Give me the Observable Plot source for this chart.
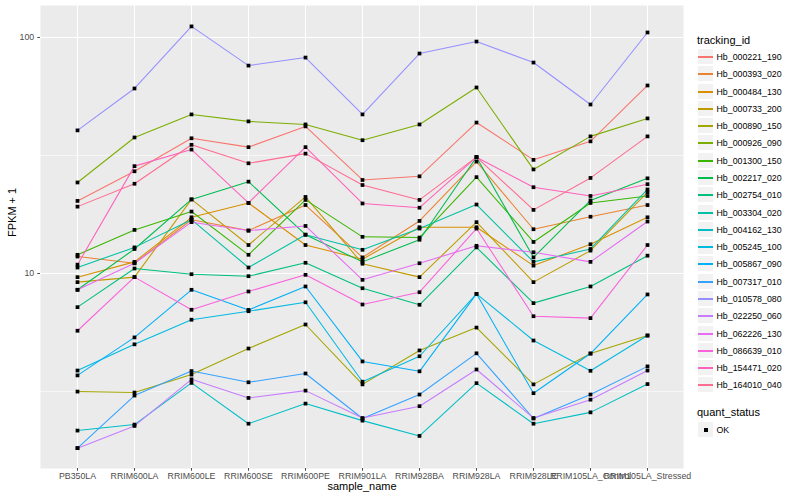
<!DOCTYPE html>
<html><head><meta charset="utf-8">
<script src="https://cdn.jsdelivr.net/npm/d3@7"></script>
<script src="https://cdn.jsdelivr.net/npm/@observablehq/plot@0.6"></script>
<style>
body{margin:0;background:#fff;font-family:"Liberation Sans",Arial,Helvetica,sans-serif;}
#wrap{position:relative;width:800px;height:500px;overflow:hidden;background:#fff;}
#chart{position:absolute;left:0;top:0;}
.lg{position:absolute;white-space:nowrap;color:#000;}
.ttl{font-size:11px;line-height:12px;}
.key{position:absolute;width:17px;height:17px;box-sizing:border-box;background:#f2f2f2;border:0.6px solid #fff;}
.lab{font-size:8.8px;line-height:10px;}
</style></head><body>
<div id="wrap"><div id="chart"></div><div id="legend"></div></div>
<script>
const samples = ["PB350LA","RRIM600LA","RRIM600LE","RRIM600SE","RRIM600PE","RRIM901LA","RRIM928BA","RRIM928LA","RRIM928LE","RRIM105LA_Control","RRIM105LA_Stressed"];
const trackingIds = ["Hb_000221_190","Hb_000393_020","Hb_000484_130","Hb_000733_200","Hb_000890_150","Hb_000926_090","Hb_001300_150","Hb_002217_020","Hb_002754_010","Hb_003304_020","Hb_004162_130","Hb_005245_100","Hb_005867_090","Hb_007317_010","Hb_010578_080","Hb_022250_060","Hb_062226_130","Hb_086639_010","Hb_154471_020","Hb_164010_040"];
const yTicks = [10, 100];
const quantStatus = ["OK"];

const hb_000221_190 = [20.3, 27.1, 37.4, 34.3, 42.0, 24.9, 25.8, 43.6, 30.3, 36.3, 62.6];
const hb_000393_020 = [11.8, 11.05, 16.9, 15.2, 19.5, 11.7, 16.7, 29.8, 15.4, 17.4, 19.5];
const hb_000484_130 = [9.65, 11.2, 17.3, 19.9, 13.2, 11.5, 15.7, 15.7, 10.8, 13.3, 17.3];
const hb_000733_200 = [9.19, 9.65, 20.6, 13.2, 21.1, 11.0, 9.65, 16.5, 9.19, 12.5, 22.1];
const hb_000890_150 = [3.16, 3.13, 3.73, 4.81, 6.08, 3.39, 4.72, 5.90, 3.39, 4.58, 5.46];
const hb_000926_090 = [24.3, 37.7, 47.2, 44.1, 42.8, 36.7, 42.8, 61.4, 27.6, 38.1, 45.4];
const hb_001300_150 = [12.0, 15.3, 18.3, 12.0, 20.5, 14.3, 14.2, 25.6, 13.6, 19.9, 21.3];
const hb_002217_020 = [8.53, 12.7, 20.6, 24.5, 14.6, 11.2, 13.9, 31.1, 11.7, 20.4, 25.3];
const hb_002754_010 = [7.20, 10.5, 9.93, 9.74, 11.1, 8.66, 7.37, 12.9, 7.49, 8.81, 11.9];
const hb_003304_020 = [10.6, 12.9, 16.9, 10.6, 14.6, 12.6, 15.5, 19.6, 11.2, 12.7, 22.7];
const hb_004162_130 = [2.16, 2.29, 3.44, 2.31, 2.81, 2.38, 2.05, 3.43, 2.31, 2.58, 3.40];
const hb_005245_100 = [3.88, 5.01, 6.37, 6.92, 7.55, 3.48, 4.46, 8.20, 5.20, 3.87, 5.46];
const hb_005867_090 = [3.70, 5.36, 8.53, 7.01, 8.81, 4.24, 3.85, 8.20, 3.11, 4.58, 8.15];
const hb_007317_010 = [1.82, 3.04, 3.86, 3.46, 3.77, 2.43, 3.07, 4.59, 2.43, 3.07, 4.04];
const hb_010578_080 = [40.4, 60.8, 111.4, 76.0, 82.2, 47.2, 85.5, 96.1, 78.3, 52.0, 105.0];
const hb_022250_060 = [1.82, 2.26, 3.56, 2.97, 3.19, 2.44, 2.74, 3.92, 2.44, 2.92, 3.88];
const hb_062226_130 = [8.53, 11.05, 16.5, 15.2, 15.9, 9.40, 11.05, 13.1, 12.3, 11.2, 16.6];
const hb_086639_010 = [5.72, 9.65, 7.02, 8.39, 9.87, 7.39, 8.33, 15.5, 6.59, 6.47, 13.2];
const hb_154471_020 = [10.9, 28.5, 33.5, 19.9, 34.3, 19.8, 19.0, 31.1, 23.2, 21.3, 23.9];
const hb_164010_040 = [19.2, 24.0, 35.1, 29.3, 32.2, 23.7, 20.5, 31.1, 18.6, 25.4, 38.1];

const seriesValues = [hb_000221_190, hb_000393_020, hb_000484_130, hb_000733_200, hb_000890_150, hb_000926_090, hb_001300_150, hb_002217_020, hb_002754_010, hb_003304_020, hb_004162_130, hb_005245_100, hb_005867_090, hb_007317_010, hb_010578_080, hb_022250_060, hb_062226_130, hb_086639_010, hb_154471_020, hb_164010_040];

const palette = ["#F8766D","#EA8331","#D89000","#C09B00","#A3A500","#7CAE00","#39B600","#00BB4E","#00BF7D","#00C1A3","#00BFC4","#00BAE0","#00B0F6","#35A2FF","#9590FF","#C77CFF","#E76BF3","#FA62DB","#FF62BC","#FF6C91"];

const rows = [];
trackingIds.forEach((id, i) => {
  samples.forEach((s, j) => rows.push({id, sample: s, value: seriesValues[i][j], status: "OK"}));
});

const font = '"Liberation Sans",Arial,Helvetica,sans-serif';
const chart = Plot.plot({
  width: 690, height: 500,
  marginLeft: 40, marginRight: 7, marginTop: 5, marginBottom: 32,
  style: {fontFamily: font, fontSize: "8.8px", background: "white", overflow: "visible"},
  x: {type: "point", domain: samples, padding: 0.6, axis: null},
  y: {type: "log", domain: [1.492, 136.6], axis: null},
  color: {domain: trackingIds, range: palette},
  marks: [
    Plot.frame({fill: "#ebebeb", stroke: "none"}),
    Plot.gridY([Math.sqrt(10), Math.sqrt(1000)], {stroke: "white", strokeOpacity: 1, strokeWidth: 0.55}),
    Plot.gridY(yTicks, {stroke: "white", strokeOpacity: 1, strokeWidth: 1.1}),
    Plot.gridX(samples, {stroke: "white", strokeOpacity: 1, strokeWidth: 1.1}),
    Plot.line(rows, {x: "sample", y: "value", z: "id", stroke: "id", strokeWidth: 1.07}),
    Plot.dot(rows, {x: "sample", y: "value", symbol: "square", r: 2.1, fill: "black", stroke: "none"}),
    Plot.axisX(samples, {tickSize: 2.75, tickPadding: 1.5, color: "#4d4d4d", fontSize: 8.8, label: null}),
    Plot.axisY(yTicks, {tickSize: 2.75, tickPadding: 3.5, color: "#4d4d4d", fontSize: 8.8, tickFormat: d => String(d), label: null}),
    Plot.text(["sample_name"], {frameAnchor: "bottom", dy: 21, fontSize: 11, fill: "black"}),
    Plot.text(["FPKM + 1"], {frameAnchor: "left", dx: -28, rotate: -90, fontSize: 11, fill: "black"})
  ]
});
document.getElementById("chart").appendChild(chart);

// legend
const lg = document.getElementById("legend");
function add(html, cls, left, top) {
  const d = document.createElement("div");
  d.className = "lg " + cls;
  d.style.left = left + "px";
  d.style.top = top + "px";
  d.innerHTML = html;
  lg.appendChild(d);
  return d;
}
add("tracking_id", "ttl", 697, 34);
trackingIds.forEach((id, i) => {
  const top = Math.round(48.06 + i * 17.28);
  const k = document.createElement("div");
  k.className = "key";
  k.style.left = "697px"; k.style.top = top + "px";
  const ln = document.createElement("div");
  ln.style.cssText = `position:absolute;left:0;right:0;top:7px;height:1.5px;background:${palette[i]};`;
  k.appendChild(ln);
  lg.appendChild(k);
  add(id, "lab", 716.5, top + 3.5);
});
add("quant_status", "ttl", 697, 406);
quantStatus.forEach((q, i) => {
  const top = 421 + i * 17;
  const k = document.createElement("div");
  k.className = "key";
  k.style.left = "697px"; k.style.top = top + "px";
  const sq = document.createElement("div");
  sq.style.cssText = "position:absolute;left:6px;top:6px;width:4px;height:4px;background:#000;";
  k.appendChild(sq);
  lg.appendChild(k);
  add(q, "lab", 716.5, top + 3.5);
});
</script></body></html>
